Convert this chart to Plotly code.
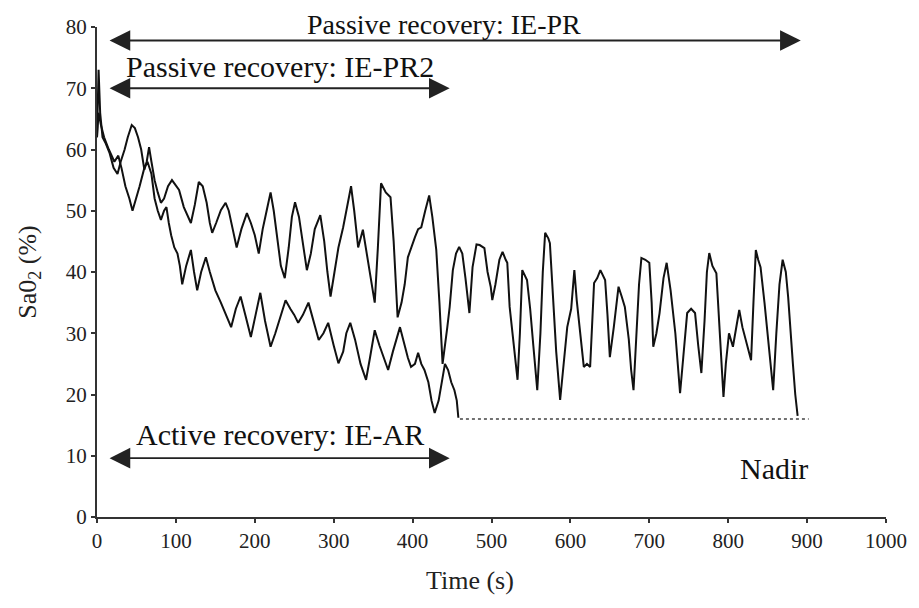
import plotly.graph_objects as go

# IE-AR (active recovery) trace
ar_t = [0, 2, 5, 9, 15, 22, 27, 31, 36, 41, 45, 50, 54, 60, 64, 69, 73, 77, 81, 85, 88, 91, 94, 98,
        102, 105, 108, 113, 119, 123, 127, 132, 138, 143, 150, 157, 163, 170, 176, 182, 188, 195,
        201, 207, 213, 220, 226, 233, 239, 245, 250, 255, 261, 268, 274, 281, 287, 293, 300, 306,
        312, 316, 321, 327, 334, 341, 346, 352, 358, 363, 369, 375, 380, 384, 390, 394, 398, 403,
        407, 411, 415, 420, 424, 428, 433, 437, 441, 445, 449, 453, 456, 458]
ar_v = [62, 66, 64, 62, 60, 58, 59, 57, 54, 52, 50, 52, 54, 57, 58, 56, 52, 50, 48.5, 50, 50.6, 48, 46, 44,
        43, 41, 38, 41, 43.6, 40, 37, 40, 42.4, 40, 37, 35, 33, 31, 34, 36, 33, 29.4,
        33, 36.6, 32, 27.8, 30, 33, 35.4, 34, 33, 31.7, 33, 35, 32, 28.9, 30, 31.7, 28, 25.1,
        27, 30, 31.7, 29, 25, 22.4, 26, 30.5, 28, 26, 24, 27, 29, 31, 28, 26, 24.5, 25,
        26.8, 25, 24, 22, 19, 17, 19, 22, 25, 24, 22, 20.7, 19, 16.2]

# IE-PR (passive recovery) trace
pr_t = [0, 1, 2, 4, 7, 11, 16, 21, 26, 30, 35, 39, 44, 48, 52, 56, 60, 63, 66, 69, 73, 77, 81, 85, 90,
        95, 100, 104, 110, 115, 119, 124, 129, 134, 139, 143, 146, 151, 157, 163, 167, 172, 177, 183,
        190, 195, 200, 205, 210, 215, 220, 224, 229, 233, 238, 243, 247, 251, 256, 261, 266, 271, 276,
        283, 288, 292, 296, 301, 306, 312, 316, 322, 326, 331, 337, 342, 347, 352, 356, 360, 366, 372,
        376, 379, 381, 386, 390, 394, 398, 403, 407, 411, 416, 421, 425, 430, 434, 438, 444, 447, 451,
        455, 459, 463, 467, 472, 476, 481, 485, 491, 495, 499, 501, 505, 510, 514, 518, 520, 523, 528,
        533, 536, 539, 545, 549, 553, 558, 562, 565, 568, 572, 574, 578, 582, 587, 591, 596, 601, 605,
        608, 612, 617, 621, 625, 630, 634, 638, 644, 647, 650, 655, 661, 665, 669, 674, 677, 680, 684,
        687, 690, 695, 700, 703, 705, 709, 713, 718, 722, 727, 733, 736, 739, 743, 748, 753, 758, 762,
        766, 770, 773, 776, 780, 785, 789, 794, 797, 801, 806, 810, 814, 818, 823, 829, 832, 835, 838,
        841, 846, 851, 857, 861, 865, 869, 873, 876, 878, 882, 885, 888]
pr_v = [62, 68, 73, 66, 62, 61, 59.4, 57, 56, 58, 60, 62, 64, 63.5, 62, 60, 56.7, 58, 60.4, 58, 55, 53, 51.3, 52, 54,
        55, 54, 53.4, 50.6, 49, 48, 51, 54.7, 54, 51.3, 48, 46.4, 48, 50.1, 51.3, 50, 47, 44, 47,
        49.6, 48, 46, 43, 47, 50, 53, 50, 45, 41, 39, 44, 49, 51.4, 49, 45, 40.3, 43, 47,
        49.3, 45, 40, 36, 40, 44, 47.3, 50, 54, 50, 44, 46.9, 43, 39, 35, 44, 54.5, 53, 52.2,
        45, 37, 32.6, 35, 38, 42.4, 44, 45.7, 47, 47.3, 50, 52.5, 49, 43.6, 35, 25, 31, 34.3, 40.3,
        43, 44.1, 43, 39, 33.3, 40.8, 44.5, 44.4, 43.9, 40, 37.6, 35.4, 38, 42, 43.3, 42, 41.5, 34.3, 28,
        22.4, 30, 40.3, 38.7, 34, 28, 20.7, 30, 40, 46.4, 45.5, 44.7, 36, 27, 19.1, 25, 31, 34, 40.3,
        35.4, 30, 24.5, 25, 24.5, 38.2, 39, 40.3, 38.7, 33, 26.1, 31, 37.6, 36, 34.3, 29, 24, 20.7, 30,
        38, 42.3, 42, 41.5, 35, 27.8, 30, 33.3, 39, 41.5, 37, 30, 25, 20.2, 26, 33.3, 34, 33.3, 28,
        23.5, 32, 40, 43.1, 41, 39.8, 30, 19.6, 25, 30, 27.8, 31, 33.8, 31, 28.4, 25.6, 35, 43.6, 42,
        40.8, 35, 28, 20.7, 30, 38, 42, 40, 35.9, 31.7, 25, 20, 16.5]

# Nadir reference line
nadir_t = [460, 902]
nadir_v = [16, 16]

x_ticks = [0, 100, 200, 300, 400, 500, 600, 700, 800, 900, 1000]
y_ticks = [0, 10, 20, 30, 40, 50, 60, 70, 80]

FONT = "Liberation Serif"
INK = "#111111"

fig = go.Figure()
fig.add_trace(go.Scatter(x=nadir_t, y=nadir_v, mode="lines",
                         line=dict(color="#444444", width=1.5, dash="dot"), hoverinfo="skip"))
fig.add_trace(go.Scatter(x=ar_t, y=ar_v, mode="lines", line=dict(color=INK, width=2)))
fig.add_trace(go.Scatter(x=pr_t, y=pr_v, mode="lines", line=dict(color=INK, width=2)))

def arrow(x0, x1, y):
    return dict(x=x1, y=y, ax=x0, ay=y, xref="x", yref="y", axref="x", ayref="y",
                text="", showarrow=True, arrowhead=2, startarrowhead=2, arrowside="end+start",
                arrowsize=2.3, startarrowsize=2.3, arrowwidth=1.8, arrowcolor="#222222")

def label(x, y, text, yref="y", size=30):
    return dict(x=x, y=y, xref="x", yref=yref, text=text, showarrow=False,
                font=dict(family=FONT, size=size, color=INK), xanchor="center", yanchor="middle")

annotations = [
    arrow(14, 892, 77.8),
    arrow(14, 447, 70),
    arrow(14, 447, 9.6),
    label(440, 1.006, "Passive recovery: IE-PR", yref="paper", size=28),
    label(232, 73.6, "Passive recovery: IE-PR2"),
    label(232, 13.5, "Active recovery: IE-AR"),
    label(858, 8, "Nadir"),
    dict(x=473, y=-0.129, xref="x", yref="paper", text="Time (s)", showarrow=False,
         font=dict(family=FONT, size=26, color="#222222"), xanchor="center", yanchor="middle"),
]

fig.update_layout(
    width=919, height=608,
    margin=dict(l=97, r=29, t=27, b=91),
    plot_bgcolor="white", paper_bgcolor="white",
    showlegend=False,
    font=dict(family=FONT, color=INK),
    annotations=annotations,
    xaxis=dict(range=[0, 1000], tickvals=x_ticks, ticktext=[str(v) for v in x_ticks],
               showgrid=False, zeroline=False, showline=True, linecolor="#333333", linewidth=2,
               ticks="outside", ticklen=4, tickwidth=1.5, tickcolor="#333333",
               tickfont=dict(family=FONT, size=21, color="#222222")),
    yaxis=dict(range=[0, 80], tickvals=y_ticks, ticktext=[str(v) for v in y_ticks],
               showgrid=False, zeroline=False, showline=True, linecolor="#333333", linewidth=2,
               ticks="outside", ticklen=4, tickwidth=1.5, tickcolor="#333333",
               tickfont=dict(family=FONT, size=21, color="#222222"),
               title=dict(text="Sa0<sub>2</sub> (%)", font=dict(family=FONT, size=26, color="#222222"), standoff=22)),
)

fig.write_html("out.html")
